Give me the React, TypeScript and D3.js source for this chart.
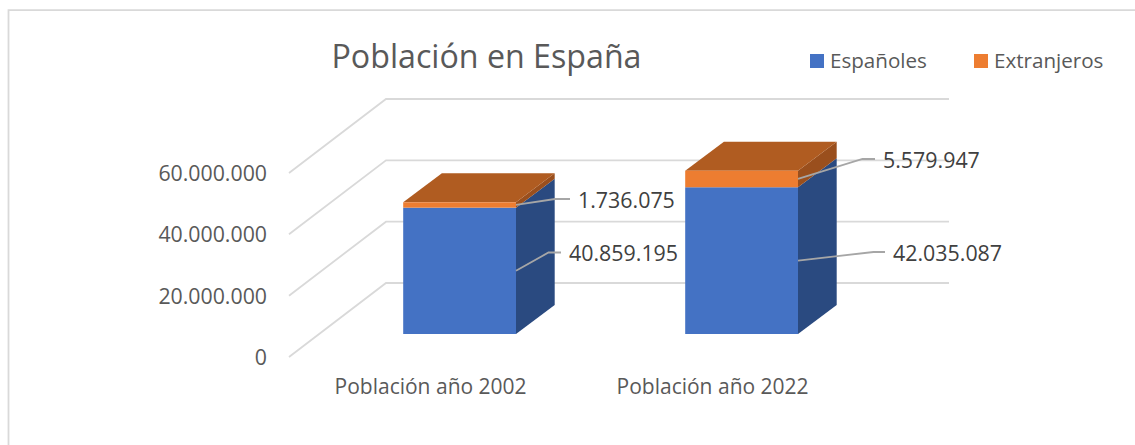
import React from "react";
import * as d3 from "d3";

const chartTitle = "Población en España";
const categories = ["Población año 2002", "Población año 2022"];
const seriesNames = ["Españoles", "Extranjeros"];
// Heights as drawn in the picture
const espanolesDrawn = [41200000, 47850000];
const extranjerosDrawn = [1750000, 5400000];
// Data labels as printed in the picture
const espanolesLabels = ["40.859.195", "42.035.087"];
const extranjerosLabels = ["1.736.075", "5.579.947"];
const yTicks = [0, 20000000, 40000000, 60000000];

const W = 1135;
const H = 445;
const TEXT = "#595959";
const FONT = "'Open Sans', 'Noto Sans', sans-serif";
const wall = { dx: 97, dy: 74 };
const depth = { dx: 38.7, dy: 29 };
const barFrontOffset = 51;

// leader-line layout per label: [elbow x, elbow y, end x]
const leaderEspanoles = [[548.5, 252.5, 561], [873.5, 252, 885]];
const leaderExtranjeros = [[555, 199, 570], [862.5, 159, 875]];
const labelColor = "#404040";

const locale = d3.formatLocale({ decimal: ",", thousands: ".", grouping: [3], currency: ["", "€"] });
const fmt = locale.format(",");

const pts = (p: number[][]) => p.map((q) => q.join(",")).join(" ");

export default function App() {
  const y = d3.scaleLinear().domain([0, 60000000]).range([283, 99]);
  const x = d3.scaleBand<string>().domain(categories).range([318.6, 882.6]).paddingInner(0.6).paddingOuter(0.3);
  const gridX0 = 289;
  const gridX1 = 386;
  const gridX2 = 949;
  const line = d3.line();
  const by = (v: number) => y(v) + barFrontOffset;

  const bars = categories.map((c, i) => {
    const x0 = x(c)!;
    const x1 = x0 + x.bandwidth();
    const a = espanolesDrawn[i];
    const b = a + extranjerosDrawn[i];
    return { c, i, x0, x1, y0: by(0), yA: by(a), yB: by(b) };
  });

  return (
    <svg
      width={W}
      height={H}
      viewBox={`0 0 ${W} ${H}`}
      style={{ position: "absolute", left: 0, top: 0, display: "block", background: "#fff" }}
      fontFamily={FONT}
    >
      <path d="M8.5,445V10.2H1135" fill="none" stroke="#D9D9D9" strokeWidth={1.8} />

      <text x={486.5} y={57} textAnchor="middle" dy="0.35em" fontSize={32.2} fill={TEXT}>
        {chartTitle}
      </text>

      {seriesNames.map((s, i) => {
        const lx = [810, 974][i];
        return (
          <g key={s}>
            <rect x={lx} y={54} width={14} height={14} fill={["#4472C4", "#ED7D31"][i]} />
            <text x={lx + 20} y={61} dy="0.35em" fontSize={20.6} fill={TEXT}>
              {s}
            </text>
          </g>
        );
      })}

      {yTicks.map((t) => (
        <g key={t}>
          <path
            d={line([
              [gridX0, y(t) + wall.dy],
              [gridX1, y(t)],
              [gridX2, y(t)],
            ])!}
            fill="none"
            stroke="#D9D9D9"
            strokeWidth={1.8}
          />
          <text x={267} y={y(t) + wall.dy + 0.7} dy="0.35em" textAnchor="end" fontSize={21.3} fill={TEXT}>
            {fmt(t)}
          </text>
        </g>
      ))}

      {bars.map(({ c, i, x0, x1, y0, yA, yB }) => (
        <g key={c}>
          <polygon points={pts([[x1, y0], [x1 + depth.dx, y0 - depth.dy], [x1 + depth.dx, yA - depth.dy], [x1, yA]])} fill="#2A4A80" />
          <polygon points={pts([[x1, yA], [x1 + depth.dx, yA - depth.dy], [x1 + depth.dx, yB - depth.dy], [x1, yB]])} fill="#9A4F1D" />
          <polygon points={pts([[x0, yB], [x0 + depth.dx, yB - depth.dy], [x1 + depth.dx, yB - depth.dy], [x1, yB]])} fill="#B05C21" />
          <rect x={x0} y={yA} width={x1 - x0} height={y0 - yA} fill="#4472C4" />
          <rect x={x0} y={yB} width={x1 - x0} height={yA - yB} fill="#ED7D31" />
          <text x={(x0 + x1) / 2 - 29} y={387} dy="0.35em" textAnchor="middle" fontSize={21} fill={TEXT}>
            {c}
          </text>

          {[
            { my: (y0 + yA) / 2, l: leaderEspanoles[i], t: espanolesLabels[i] },
            { my: (yA + yB) / 2, l: leaderExtranjeros[i], t: extranjerosLabels[i] },
          ].map(({ my, l, t }) => (
            <g key={t}>
              <path
                d={line([[x1, my], [l[0], l[1]], [l[2], l[1]]])!}
                fill="none"
                stroke="#A6A6A6"
                strokeWidth={1.8}
              />
              <text x={l[2] + 8} y={l[1] + 1.2} dy="0.35em" fontSize={21.4} fill={labelColor}>
                {t}
              </text>
            </g>
          ))}
        </g>
      ))}
    </svg>
  );
}
